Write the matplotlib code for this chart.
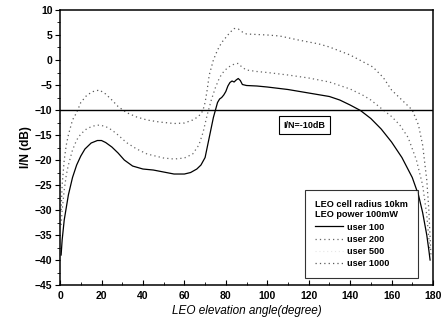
import numpy as np
import matplotlib
matplotlib.use("Agg")
import matplotlib.pyplot as plt
from matplotlib.ticker import MultipleLocator

plt.rcParams['font.family'] = ['Liberation Sans', 'DejaVu Sans']

# user 100 (solid)
x_100 = [0.5, 1, 2, 3, 4, 6, 8, 10, 12, 15, 18, 20, 22, 25, 28, 31, 35, 40, 45, 50, 55, 60,
         63, 66, 68, 70, 72, 74, 75, 76, 77, 78, 79, 80, 81, 82, 83, 84, 85, 86, 87, 88, 90,
         95, 100, 110, 120, 130, 135, 140, 145, 150, 155, 160, 165, 170, 173, 175, 177, 178, 178.6]
y_100 = [-39, -36, -32, -29.5, -27, -23.5, -21, -19.2, -17.8, -16.6, -16.1, -16.1, -16.5, -17.4,
         -18.6, -20, -21.2, -21.8, -22, -22.4, -22.8, -22.8, -22.5, -21.8, -21, -19.5, -15.5,
         -11.5, -10, -8.5, -7.8, -7.5, -7, -6.3, -5.2, -4.5, -4.2, -4.4, -4, -3.7, -4.1, -4.9,
         -5.1, -5.2, -5.4, -5.9, -6.6, -7.3, -8, -9, -10.1, -11.7, -13.8, -16.4, -19.5, -23.5,
         -27, -30.5, -35, -38, -40]

# user 200 (dotted)
x_200 = [0.5, 1, 2, 3, 4, 6, 8, 10, 13, 16, 19, 22, 25, 28, 32, 37, 42, 50, 55, 60, 64, 67,
         69, 71, 73, 75, 77, 79, 81, 83, 85, 86, 88, 90, 95, 100, 110, 120, 130, 140, 146, 150,
         156, 160, 164, 168, 172, 175, 177, 178.5]
y_200 = [-33, -30, -26, -23, -21, -18, -16, -14.8, -13.7, -13.2, -13, -13.3, -14, -15, -16.5,
         -17.8, -18.8, -19.6, -19.8, -19.6, -18.8, -17, -14.5, -11, -8, -5.5, -3.5, -2.3, -1.5,
         -1, -0.7, -0.7, -1.5, -2, -2.3, -2.5, -3, -3.6, -4.4, -5.8, -7, -8, -10, -11.3, -13,
         -15.5, -20, -25, -31, -38]

# user 1000 (dotted)
x_1000 = [0.5, 1, 2, 3, 4, 6, 8, 10, 13, 16, 19, 22, 25, 28, 32, 37, 42, 48, 55, 60, 64, 66,
          68, 69, 70, 71, 72, 74, 76, 78, 80, 82, 84, 86, 88, 90, 95, 100, 106, 115, 125, 130,
          140, 151, 156, 160, 165, 170, 173, 175, 177, 178, 179]
y_1000 = [-30, -25, -20, -17, -15, -12, -10.5, -8.5, -7, -6.3, -6, -6.8, -8, -9.3, -10.5, -11.4,
          -12, -12.4, -12.7, -12.6, -12, -11.5, -10.8, -10, -8.5, -6, -3, 0, 2, 3.5, 4.5, 5.5,
          6.3, 6.2, 5.6, 5.2, 5.1, 5, 4.8, 4, 3.2, 2.6, 1, -1.4, -3.5, -6, -8, -10, -13, -17,
          -24, -30, -39]

threshold = -10

fig = plt.figure(figsize=(4.45, 3.33), dpi=100)
ax = fig.add_axes([0.135, 0.144, 0.838, 0.826])

ax.plot(x_100, y_100, color='black', lw=0.9, label='user 100')
ax.plot(x_200, y_200, color='0.4', lw=0.9, ls=(0, (1, 2.5)), label='user 200')
ax.plot([], [], color='0.9', lw=0.8, ls=(0, (1, 2.5)), label='user 500')
ax.plot(x_1000, y_1000, color='0.35', lw=0.9, ls=(0, (1, 2.5)), label='user 1000')
ax.axhline(threshold, color='black', lw=1.0)

ax.text(118, -13, 'I/N=-10dB', ha='center', va='center', fontsize=6.5, fontweight='bold',
        bbox=dict(boxstyle='square,pad=0.55', fc='white', ec='black', lw=0.8))

ax.set_xlim(0, 180)
ax.set_ylim(-45, 10)
ax.xaxis.set_major_locator(MultipleLocator(20))
ax.xaxis.set_minor_locator(MultipleLocator(10))
ax.yaxis.set_major_locator(MultipleLocator(5))
ax.yaxis.set_minor_locator(MultipleLocator(2.5))
ax.tick_params(axis='x', which='both', direction='in', labelsize=7.5, pad=4)
ax.tick_params(axis='y', which='both', direction='out', labelsize=7.5, pad=2)
ax.tick_params(which='major', length=3.5)
ax.tick_params(which='minor', length=2)
for lab in ax.get_xticklabels() + ax.get_yticklabels():
    lab.set_fontweight('bold')
for s in ax.spines.values():
    s.set_linewidth(1.1)

ax.set_xlabel('LEO elevation angle(degree)', fontsize=8.5, style='italic', labelpad=3)
ax.set_ylabel('I/N (dB)', fontsize=8.5, fontweight='bold', labelpad=2)

leg = ax.legend(title='LEO cell radius 10km\nLEO power 100mW', alignment='left',
                loc='lower left', bbox_to_anchor=(0.645, 0.008), fontsize=6.6,
                title_fontsize=6.6, frameon=True, fancybox=False, edgecolor='black',
                handlelength=3.0, handletextpad=0.5, labelspacing=0.35, borderpad=1.1)
leg.get_frame().set_linewidth(0.8)
for t in leg.get_texts():
    t.set_fontweight('bold')
leg.get_title().set_fontweight('bold')

fig.savefig('out.png', dpi=100)
